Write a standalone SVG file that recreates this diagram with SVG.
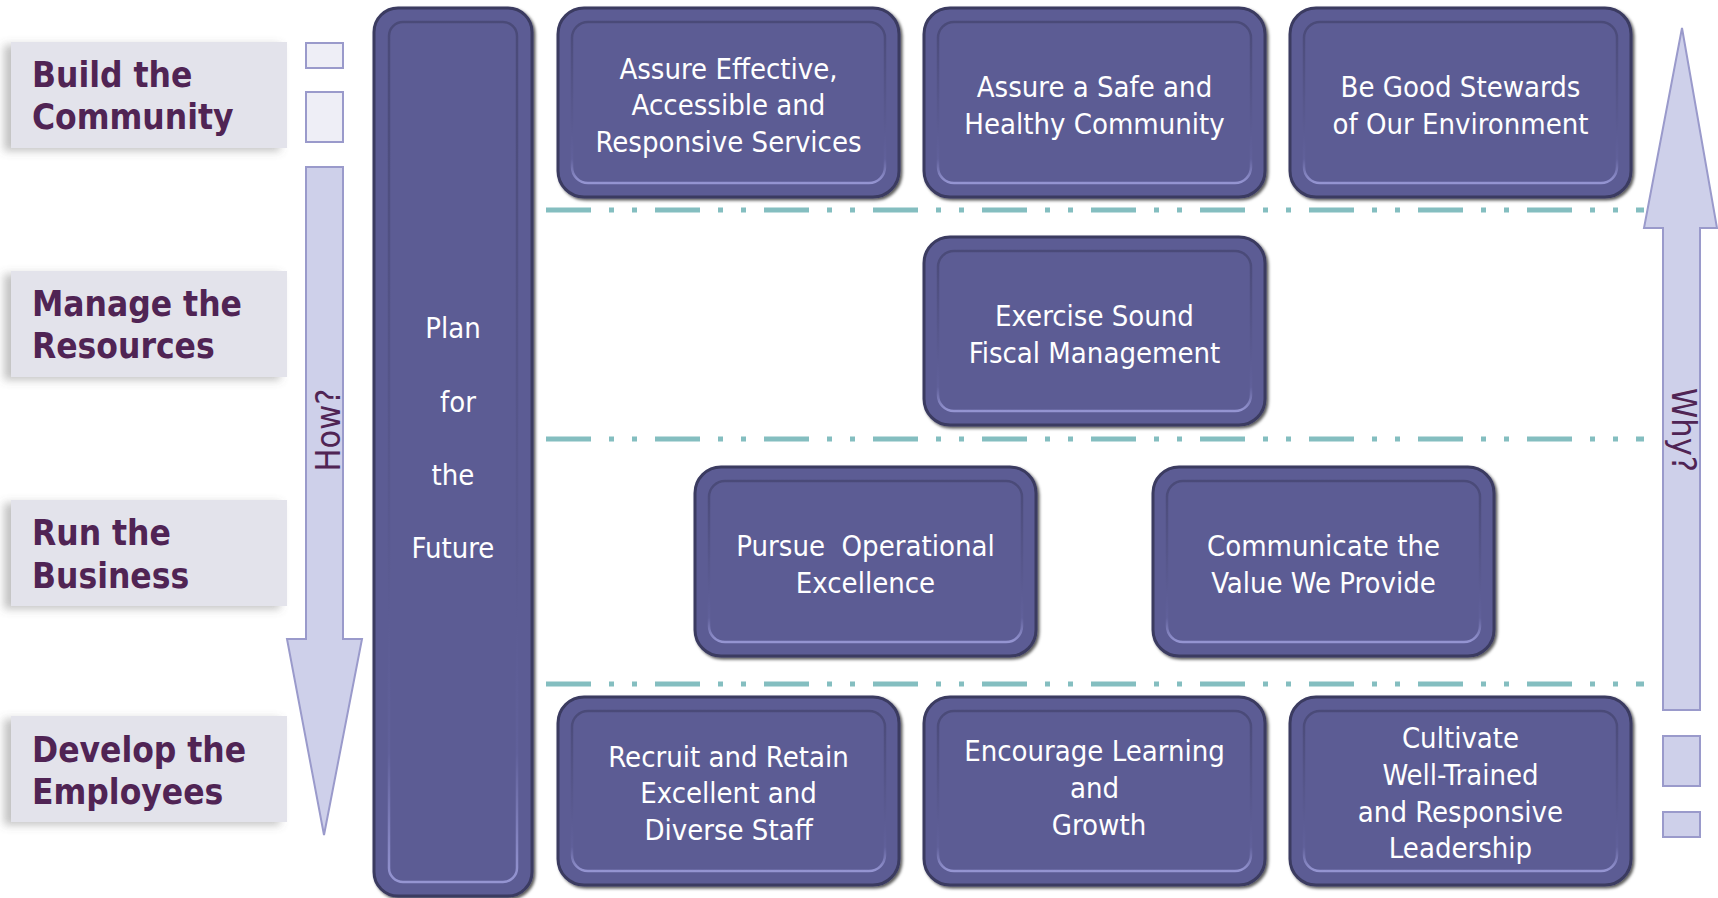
<svg xmlns="http://www.w3.org/2000/svg" width="1718" height="898" viewBox="0 0 1718 898">
<defs>
<linearGradient id="bevel" x1="0" y1="0" x2="0" y2="1">
<stop offset="0" stop-color="#4a4a78"/>
<stop offset="0.85" stop-color="#60609a"/>
<stop offset="1" stop-color="#9595d2"/>
</linearGradient>
<filter id="sh" x="-5%" y="-5%" width="112%" height="112%">
<feDropShadow dx="2" dy="2" stdDeviation="1.5" flood-color="#000" flood-opacity="0.65"/>
</filter>
<filter id="lsh" x="-10%" y="-10%" width="120%" height="130%">
<feDropShadow dx="-7" dy="3" stdDeviation="4" flood-color="#666" flood-opacity="0.4"/>
</filter>
</defs>
<style>
.box{fill:#5C5C94;stroke:#3A3A60;stroke-width:3;filter:url(#sh)}
.inner{fill:none;stroke:url(#bevel);stroke-width:2.5}
.t{font-family:"DejaVu Sans Condensed","DejaVu Sans",sans-serif;font-size:29px;fill:#ffffff;text-anchor:middle}
.lbl{fill:#E3E3EB;filter:url(#lsh)}
.lt{font-family:"DejaVu Sans Condensed","DejaVu Sans",sans-serif;font-weight:bold;font-size:35px;fill:#502454}
.arrow{fill:#CED0EA;stroke:#9A9ACB;stroke-width:2}
.sq1{fill:#EEEEF6;stroke:#9A9ACB;stroke-width:2}
.sq2{fill:#CED0EA;stroke:#9A9ACB;stroke-width:2}
.dash{stroke:#84BEC0;stroke-width:5;stroke-dasharray:45 18 5 18 5 18;fill:none}
.at{font-family:"DejaVu Sans Condensed","DejaVu Sans",sans-serif;font-size:34px;fill:#502454;text-anchor:middle}
</style>

<g id="connectors">
<line class="dash" x1="546" y1="210" x2="1644" y2="210"/>
<line class="dash" x1="546" y1="439" x2="1644" y2="439"/>
<line class="dash" x1="546" y1="684" x2="1644" y2="684"/>
</g>

<g id="label-build">
<rect class="lbl" x="11" y="42" width="276" height="106"/>
<text class="lt" x="32" y="87">Build the</text>
<text class="lt" x="32" y="129">Community</text>
</g>
<g id="label-manage">
<rect class="lbl" x="11" y="271" width="276" height="106"/>
<text class="lt" x="32" y="316">Manage the</text>
<text class="lt" x="32" y="358">Resources</text>
</g>
<g id="label-run">
<rect class="lbl" x="11" y="500" width="276" height="106"/>
<text class="lt" x="32" y="545">Run the</text>
<text class="lt" x="32" y="588">Business</text>
</g>
<g id="label-develop">
<rect class="lbl" x="11" y="716" width="276" height="106"/>
<text class="lt" x="32" y="762">Develop the</text>
<text class="lt" x="32" y="804">Employees</text>
</g>

<g id="how-arrow">
<rect class="sq1" x="306" y="43" width="37" height="25"/>
<rect class="sq1" x="306" y="92" width="37" height="50"/>
<polygon class="arrow" points="306,167 343,167 343,639 362,639 324,835 287,639 306,639"/>
<text class="at" transform="translate(340,430) rotate(-90)">How?</text>
</g>

<g id="why-arrow">
<polygon class="arrow" points="1663,710 1700,710 1700,228 1717,228 1682,28 1644,228 1663,228"/>
<rect class="sq2" x="1663" y="736" width="37" height="50"/>
<rect class="sq2" x="1663" y="812" width="37" height="25"/>
<text class="at" transform="translate(1672,430) rotate(90)">Why?</text>
</g>

<g id="plan-future">
<rect class="box" x="374" y="8" width="158" height="888" rx="24"/>
<rect class="inner" x="389" y="22" width="128" height="860" rx="14"/>
<text class="t" x="453" y="338">Plan</text>
<text class="t" x="458" y="412">for</text>
<text class="t" x="453" y="485">the</text>
<text class="t" x="453" y="558">Future</text>
</g>

<g id="assure-effective">
<rect class="box" x="558" y="8" width="341" height="189" rx="26"/>
<rect class="inner" x="572" y="22" width="313" height="161" rx="16"/>
<text class="t" x="728.5" y="79">Assure Effective,</text>
<text class="t" x="728.5" y="115">Accessible and</text>
<text class="t" x="728.5" y="152">Responsive Services</text>
</g>
<g id="assure-safe">
<rect class="box" x="924" y="8" width="341" height="189" rx="26"/>
<rect class="inner" x="938" y="22" width="313" height="161" rx="16"/>
<text class="t" x="1094.5" y="97">Assure a Safe and</text>
<text class="t" x="1094.5" y="134">Healthy Community</text>
</g>
<g id="good-stewards">
<rect class="box" x="1290" y="8" width="341" height="189" rx="26"/>
<rect class="inner" x="1304" y="22" width="313" height="161" rx="16"/>
<text class="t" x="1460.5" y="97">Be Good Stewards</text>
<text class="t" x="1460.5" y="134">of Our Environment</text>
</g>

<g id="fiscal">
<rect class="box" x="924" y="237" width="341" height="188" rx="26"/>
<rect class="inner" x="938" y="251" width="313" height="160" rx="16"/>
<text class="t" x="1094.5" y="326">Exercise Sound</text>
<text class="t" x="1094.5" y="363">Fiscal Management</text>
</g>

<g id="operational">
<rect class="box" x="695" y="467" width="341" height="189" rx="26"/>
<rect class="inner" x="709" y="481" width="313" height="161" rx="16"/>
<text class="t" x="865.5" y="556" xml:space="preserve">Pursue  Operational</text>
<text class="t" x="865.5" y="593">Excellence</text>
</g>
<g id="communicate">
<rect class="box" x="1153" y="467" width="341" height="189" rx="26"/>
<rect class="inner" x="1167" y="481" width="313" height="161" rx="16"/>
<text class="t" x="1323.5" y="556">Communicate the</text>
<text class="t" x="1323.5" y="593">Value We Provide</text>
</g>

<g id="recruit">
<rect class="box" x="558" y="697" width="341" height="188" rx="26"/>
<rect class="inner" x="572" y="711" width="313" height="160" rx="16"/>
<text class="t" x="728.5" y="767">Recruit and Retain</text>
<text class="t" x="728.5" y="803">Excellent and</text>
<text class="t" x="728.5" y="840">Diverse Staff</text>
</g>
<g id="learning">
<rect class="box" x="924" y="697" width="341" height="188" rx="26"/>
<rect class="inner" x="938" y="711" width="313" height="160" rx="16"/>
<text class="t" x="1094.5" y="761">Encourage Learning</text>
<text class="t" x="1094.5" y="798">and</text>
<text class="t" x="1099" y="835">Growth</text>
</g>
<g id="leadership">
<rect class="box" x="1290" y="697" width="341" height="188" rx="26"/>
<rect class="inner" x="1304" y="711" width="313" height="160" rx="16"/>
<text class="t" x="1460.5" y="748">Cultivate</text>
<text class="t" x="1460.5" y="785">Well-Trained</text>
<text class="t" x="1460.5" y="822">and Responsive</text>
<text class="t" x="1460.5" y="858">Leadership</text>
</g>
</svg>
